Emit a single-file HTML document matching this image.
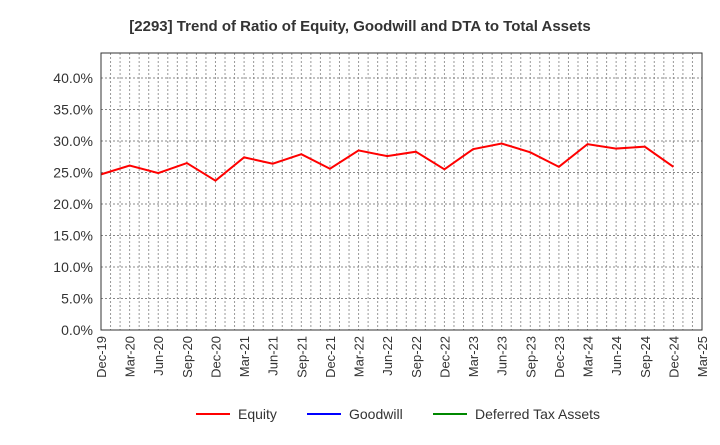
<!DOCTYPE html>
<html><head><meta charset="utf-8"><style>
body{margin:0;background:#fff;font-family:"Liberation Sans",sans-serif}
svg text{font-family:"Liberation Sans",sans-serif}
</style></head><body>
<svg id="chart" width="720" height="440" xmlns="http://www.w3.org/2000/svg">
<rect width="720" height="440" fill="#fff"/>
<text x="360" y="31" text-anchor="middle" font-size="15" font-weight="bold" fill="#333">[2293]  Trend of Ratio of Equity, Goodwill and DTA to Total Assets</text>
<g id="grid"></g>
<g id="yaxis"></g>
<g id="xaxis"></g>
<g id="series"></g>
<rect x="101" y="53" width="601" height="277" fill="none" stroke="#333" stroke-width="1"/>
<g>
<g><line x1="196" y1="414" x2="230" y2="414" stroke="#f00" stroke-width="2"/><text x="238" y="419" font-size="14" fill="#333">Equity</text></g>
<g><line x1="307" y1="414" x2="341" y2="414" stroke="#00f" stroke-width="2"/><text x="349" y="419" font-size="14" fill="#333">Goodwill</text></g>
<g><line x1="433" y1="414" x2="467" y2="414" stroke="#080" stroke-width="2"/><text x="475" y="419" font-size="14" fill="#333">Deferred Tax Assets</text></g>
</g>
</svg>
<script>
const categories=["Dec-19","Mar-20","Jun-20","Sep-20","Dec-20","Mar-21","Jun-21","Sep-21","Dec-21","Mar-22","Jun-22","Sep-22","Dec-22","Mar-23","Jun-23","Sep-23","Dec-23","Mar-24","Jun-24","Sep-24","Dec-24","Mar-25"];
const equity=[24.7,26.1,24.9,26.5,23.7,27.4,26.4,27.9,25.6,28.5,27.6,28.3,25.5,28.7,29.6,28.2,25.9,29.5,28.8,29.1,25.9];
const yTicks=[0,5,10,15,20,25,30,35,40];
const X0=101,X1=702,Y0=330,Y1=53,YMAX=277/6.3;
const NS="http://www.w3.org/2000/svg";
const xs=i=>X0+i*(X1-X0)/(categories.length-1);
const ys=v=>Y0-(v/YMAX)*(Y0-Y1);
function mk(tag,attrs,parent){const e=document.createElementNS(NS,tag);for(const k in attrs)e.setAttribute(k,attrs[k]);parent.appendChild(e);return e;}
const grid=document.getElementById('grid'),ya=document.getElementById('yaxis'),xa=document.getElementById('xaxis'),se=document.getElementById('series');
for(let m=1;m<(categories.length-1)*3;m++){const x=X0+m*(X1-X0)/((categories.length-1)*3);
const l=mk('line',{x1:x,x2:x,y1:Y1,y2:Y0,stroke:'#999','stroke-dasharray':'2,2','stroke-width':1},grid);

}
yTicks.forEach(v=>{const y=ys(v);
if(v>0){const l=mk('line',{x1:X0,x2:X1,y1:y,y2:y,stroke:'#888','stroke-dasharray':'2,2','stroke-width':1},grid);

}
const t=mk('text',{x:93,y:y+5,'text-anchor':'end','font-size':14,fill:'#333'},ya);t.textContent=v.toFixed(1)+'%';

});
categories.forEach((c,i)=>{const x=xs(i);
const t=mk('text',{x:x+5,y:336,'text-anchor':'end','font-size':13,fill:'#333',transform:`rotate(-90 ${x+5} 336)`},xa);t.textContent=c;

});
const p=mk('polyline',{points:equity.map((v,i)=>xs(i)+','+ys(v)).join(' '),fill:'none',stroke:'#f00','stroke-width':2},se);


</script>
</body></html>
